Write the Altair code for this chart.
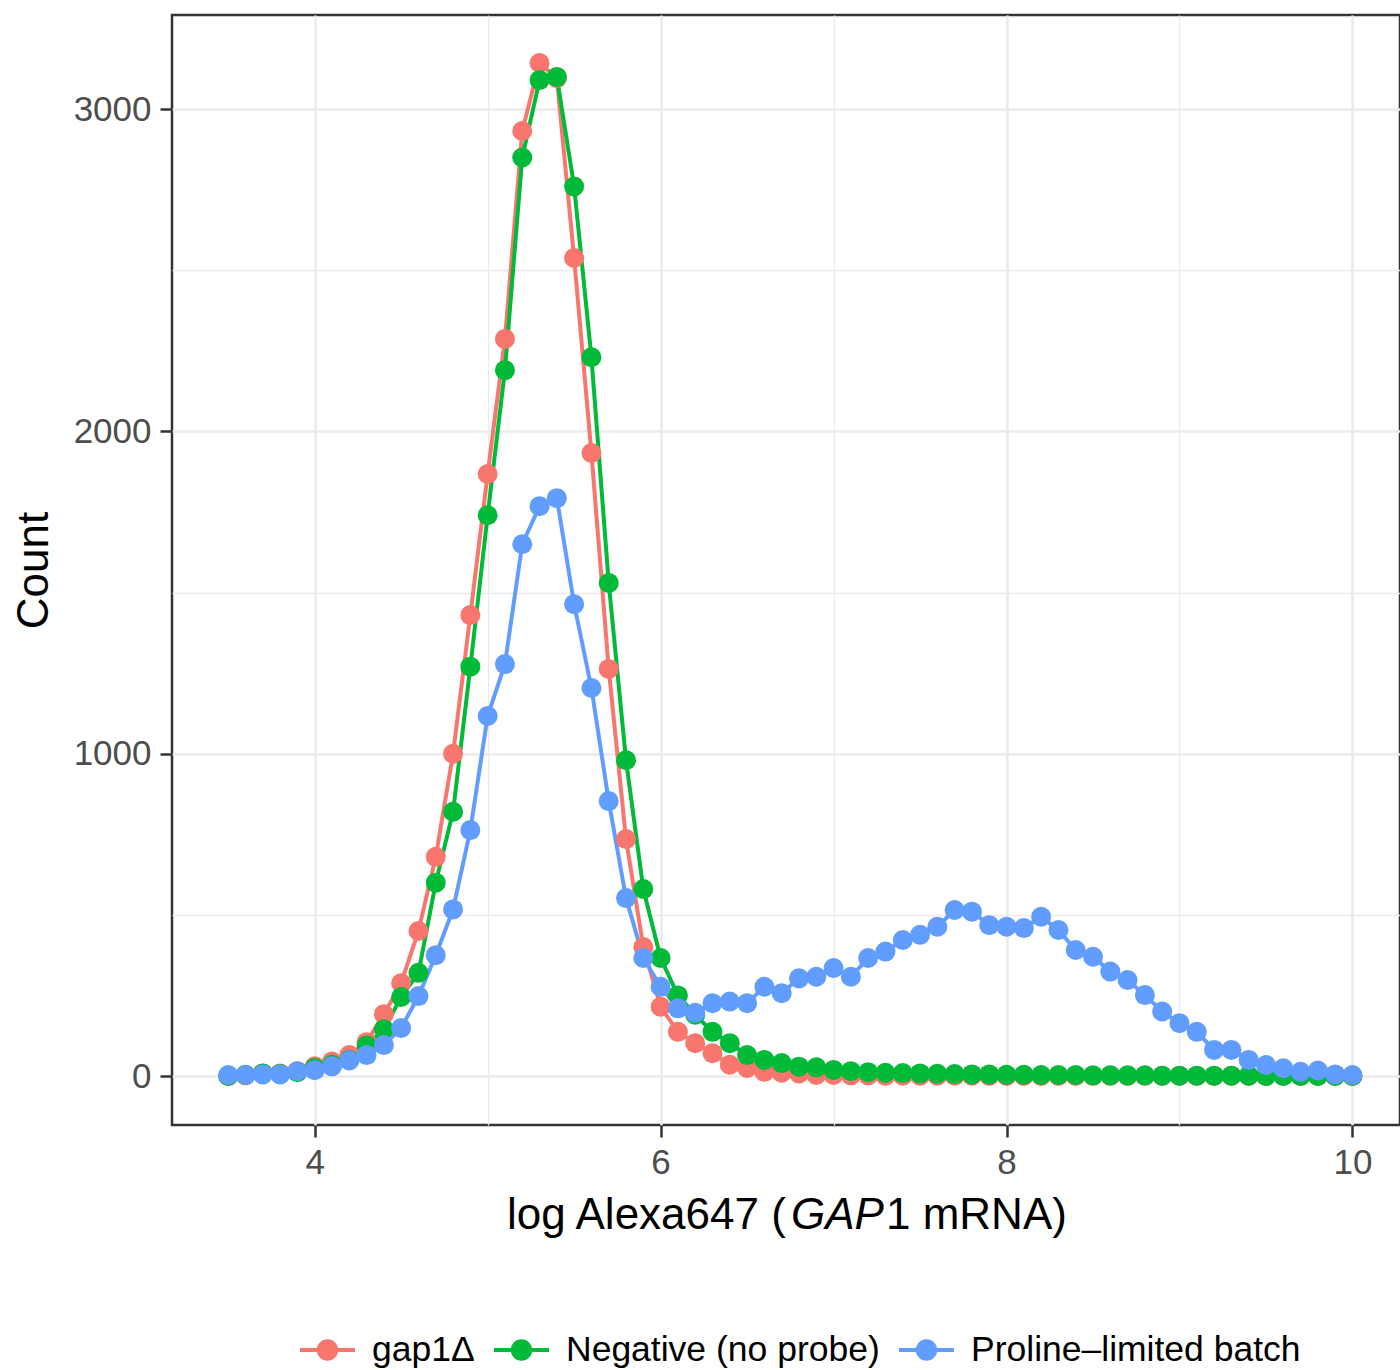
import altair as alt
import pandas as pd

# ---------------- data ----------------
bins = [3.5, 3.6, 3.7, 3.8, 3.9, 4.0, 4.1, 4.2, 4.3, 4.4, 4.5, 4.6, 4.7, 4.8, 4.9,
        5.0, 5.1, 5.2, 5.3, 5.4, 5.5, 5.6, 5.7, 5.8, 5.9, 6.0, 6.1, 6.2, 6.3, 6.4,
        6.5, 6.6, 6.7, 6.8, 6.9, 7.0, 7.1, 7.2, 7.3, 7.4, 7.5, 7.6, 7.7, 7.8, 7.9,
        8.0, 8.1, 8.2, 8.3, 8.4, 8.5, 8.6, 8.7, 8.8, 8.9, 9.0, 9.1, 9.2, 9.3, 9.4,
        9.5, 9.6, 9.7, 9.8, 9.9, 10.0]

gap1_counts = [0, 2, 8, 8, 15, 30, 45, 65, 105, 192, 288, 450, 680, 1000, 1430,
               1868, 2287, 2932, 3143, 3096, 2538, 1933, 1263, 735, 400, 215, 137, 102, 71, 35,
               25, 13, 10, 8, 3, 3, 2, 2, 1, 1, 1, 1, 1, 1, 0,
               0, 0, 0, 0, 0, 0, 0, 0, 0, 0, 0, 0, 0, 0, 0,
               0, 0, 0, 0, 0, 0]

negative_counts = [0, 4, 8, 6, 12, 25, 35, 50, 95, 145, 245, 320, 600, 820, 1270,
                   1740, 2190, 2850, 3090, 3100, 2760, 2230, 1530, 980, 580, 366, 250, 190, 137, 102,
                   65, 50, 40, 29, 27, 19, 15, 12, 10, 9, 8, 7, 6, 5, 5,
                   4, 4, 3, 3, 3, 2, 2, 2, 2, 1, 1, 1, 1, 1, 1,
                   0, 0, 0, 0, 0, 0]

proline_counts = [3, 3, 5, 5, 15, 18, 30, 48, 65, 96, 149, 248, 375, 517, 763,
                  1117, 1278, 1650, 1768, 1793, 1464, 1204, 853, 552, 366, 277, 210, 196, 226, 231,
                  226, 277, 257, 303, 308, 335, 308, 366, 386, 422, 438, 463, 515, 510, 468,
                  463, 459, 494, 453, 391, 370, 324, 298, 251, 200, 164, 137, 81, 81, 50,
                  34, 24, 13, 17, 5, 3]

series_names = ["gap1Δ", "Negative (no probe)", "Proline–limited batch"]
series_colors = ["#F8766D", "#00BA38", "#619CFF"]

x_all_ticks = [4, 5, 6, 7, 8, 9, 10]
y_all_ticks = [0, 500, 1000, 1500, 2000, 2500, 3000]

title_parts = ["log Alexa647 (", "GAP", "1 mRNA)"]

# ---------------- build table ----------------
rows = []
for name, vals in zip(series_names, [gap1_counts, negative_counts, proline_counts]):
    for b, v in zip(bins, vals):
        rows.append({"x": b, "count": v, "series": name})
df = pd.DataFrame(rows)

FONT = "Liberation Sans"
PLOT_W, PLOT_H = 1228, 1110

# legend glyph: a thin bar (line) with a disc in the middle, filled with the series colour
legend_symbol = ("M-1,-0.07L1,-0.07L1,0.07L-1,0.07Z"
                 "M0.39,0A0.39,0.39,0,1,1,-0.39,0A0.39,0.39,0,1,1,0.39,0Z")

color_leg = alt.Color(
    "series:N",
    scale=alt.Scale(domain=series_names, range=series_colors),
    legend=alt.Legend(
        orient="none", legendX=128, legendY=1307.5, direction="horizontal",
        title=None, symbolType=legend_symbol, symbolSize=3025,
        symbolStrokeWidth=0, symbolOpacity=1,
        labelFont=FONT, labelFontSize=35.5, labelColor="black",
        labelOffset=17, columnPadding=19, labelLimit=800,
    ),
)

x_enc = alt.X(
    "x:Q",
    scale=alt.Scale(domain=[3.175, 10.275], nice=False, zero=False),
    axis=alt.Axis(
        values=x_all_ticks, title=None, domain=False,
        labelExpr="datum.value % 2 == 0 ? datum.label : ''",
        labelFont=FONT, labelFontSize=35, labelColor="#4D4D4D", labelPadding=8,
        tickColor="#333333", tickWidth=2.5, tickSize=12,
        tickOpacity={"condition": {"test": "datum.value % 2 == 0", "value": 1}, "value": 0},
        grid=True, gridColor="#EBEBEB",
        gridWidth={"condition": {"test": "datum.value % 2 == 0", "value": 2.6}, "value": 1.3},
    ),
)

y_enc = alt.Y(
    "count:Q",
    scale=alt.Scale(domain=[-152, 3292], nice=False, zero=False),
    axis=alt.Axis(
        values=y_all_ticks, title="Count", domain=False, format="d",
        labelExpr="datum.value % 1000 == 0 ? datum.label : ''",
        labelFont=FONT, labelFontSize=35, labelColor="#4D4D4D", labelPadding=9,
        tickColor="#333333", tickWidth=2.5, tickSize=12,
        tickOpacity={"condition": {"test": "datum.value % 1000 == 0", "value": 1}, "value": 0},
        grid=True, gridColor="#EBEBEB",
        gridWidth={"condition": {"test": "datum.value % 1000 == 0", "value": 2.6}, "value": 1.3},
        titleFont=FONT, titleFontSize=44, titleFontWeight="normal", titleColor="black",
        titlePadding=17,
    ),
)

base = alt.Chart(df)
# one line layer per series (constant colour, so no second legend is created)
line_layers = [
    base.transform_filter(alt.datum.series == name)
        .mark_line(strokeWidth=4, color=col)
        .encode(x=x_enc, y=y_enc, order="x:Q")
    for name, col in zip(series_names, series_colors)
]
points = base.mark_circle(size=400, opacity=1).encode(x=x_enc, y=y_enc, color=color_leg)

one = alt.Data(values=[{"k": 1}])
title_a = alt.Chart(one).mark_text(font=FONT, fontSize=44, align="left", baseline="alphabetic",
                                   color="black").encode(
    x=alt.value(335), y=alt.value(1214), text=alt.value(title_parts[0]))
title_b = alt.Chart(one).mark_text(font=FONT, fontSize=44, fontStyle="italic", align="left",
                                   baseline="alphabetic", color="black").encode(
    x=alt.value(619), y=alt.value(1214), text=alt.value(title_parts[1]))
title_c = alt.Chart(one).mark_text(font=FONT, fontSize=44, align="left", baseline="alphabetic",
                                   color="black").encode(
    x=alt.value(714), y=alt.value(1214), text=alt.value(title_parts[2]))

chart = alt.layer(*line_layers, points, title_a, title_b, title_c).properties(
    width=PLOT_W, height=PLOT_H,
    autosize=alt.AutoSizeParams(type="none"),
    padding={"left": 172, "top": 15, "right": 0, "bottom": 245},
    background="white",
).configure_view(stroke="#333333", strokeWidth=2.5)

chart.save("out.html", embed_options={"renderer": "svg", "actions": False})
